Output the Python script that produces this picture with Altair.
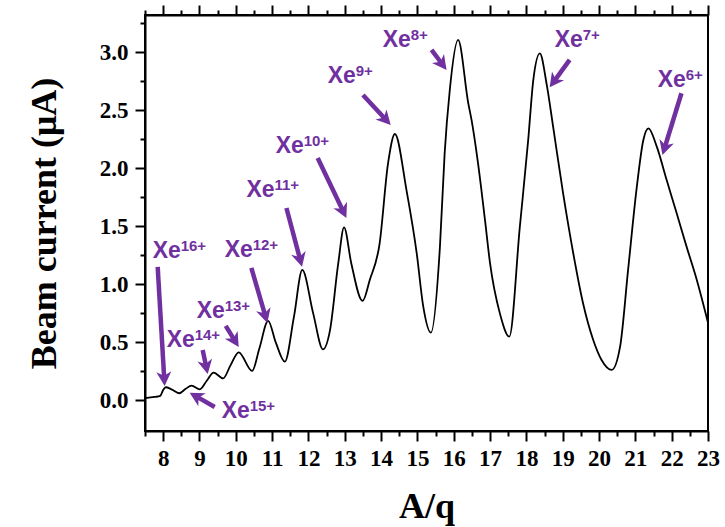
import math
import altair as alt
import pandas as pd

# ---- data ----
aq = [7.50, 7.77, 7.92, 8.00, 8.07, 8.23, 8.44, 8.62, 8.78, 9.01, 9.20, 9.39, 9.65,
      9.85, 10.08, 10.45, 10.65, 10.89, 11.10, 11.35, 11.60, 11.83, 12.13, 12.40,
      12.59, 12.82, 12.98, 13.18, 13.49, 13.69, 13.96, 14.19, 14.38, 14.70, 14.98,
      15.16, 15.37, 15.62, 15.75, 15.89, 16.12, 16.40, 16.49, 16.67, 16.86, 17.00,
      17.27, 17.53, 17.82, 18.05, 18.19, 18.37, 18.56, 18.74, 19.01, 19.29, 19.56,
      19.84, 20.07, 20.35, 20.58, 20.80, 21.04, 21.22, 21.36, 21.59, 21.86, 22.14,
      22.41, 22.69, 23.00]
current = [0.02, 0.03, 0.04, 0.09, 0.114, 0.096, 0.062, 0.10, 0.128, 0.096, 0.17, 0.24, 0.19,
           0.30, 0.415, 0.254, 0.45, 0.685, 0.50, 0.334, 0.72, 1.124, 0.75, 0.44,
           0.60, 1.18, 1.49, 1.18, 0.857, 1.04, 1.354, 2.04, 2.295, 1.81, 1.27,
           0.81, 0.584, 1.325, 2.13, 2.67, 3.105, 2.56, 2.416, 2.04, 1.555, 1.18,
           0.75, 0.55, 1.497, 2.244, 2.76, 2.99, 2.72, 2.35, 1.785, 1.268, 0.837,
           0.521, 0.349, 0.263, 0.463, 1.124, 1.84, 2.244, 2.344, 2.186, 1.9, 1.61,
           1.325, 1.04, 0.67]

# annotation labels: charge state, label anchor (A/q, current), arrow tail and tip
charge = ["16+", "15+", "14+", "13+", "12+", "11+", "10+", "9+", "8+", "7+", "6+"]
label_x = [7.711, 9.611, 8.096, 8.922, 9.693, 10.291, 11.097, 12.530, 14.044, 18.779, 21.615]
label_y = [1.227, -0.151, 0.461, 0.711, 1.236, 1.753, 2.132, 2.735, 3.045, 3.045, 2.696]
tail_x = [7.849, 9.419, 9.088, 9.722, 10.428, 11.394, 12.254, 13.501, 15.389, 19.191, 22.269]
tail_y = [1.150, -0.056, 0.435, 0.642, 1.142, 1.658, 2.089, 2.631, 3.019, 2.933, 2.646]
tip_x = [8.041, 8.730, 9.226, 10.080, 10.868, 11.823, 13.044, 14.264, 15.802, 18.641, 21.746]
tip_y = [0.125, 0.067, 0.228, 0.461, 0.668, 1.152, 1.572, 2.373, 2.847, 2.697, 2.115]

x_major = list(range(8, 24))
x_minor = [v + 0.5 for v in range(7, 23)]
y_major = [0.0, 0.5, 1.0, 1.5, 2.0, 2.5, 3.0]
y_minor = [0.25, 0.75, 1.25, 1.75, 2.25, 2.75, 3.25]

# ---- layout ----
W, H = 563, 416
XDOM = [7.5, 23.0]
YDOM = [-0.263, 3.32]
KX = W / (XDOM[1] - XDOM[0])
KY = H / (YDOM[1] - YDOM[0])
PURPLE = "#7030A0"
SERIF = "Liberation Serif"
SANS = "Liberation Sans"

df = pd.DataFrame({"aq": aq, "current": current})

# arrow geometry in data units (angles from screen-space direction)
ang, ex, ey = [], [], []
for tx, ty, hx, hy in zip(tail_x, tail_y, tip_x, tip_y):
    dxp = (hx - tx) * KX
    dyp = -(hy - ty) * KY
    L = math.hypot(dxp, dyp)
    ux, uy = dxp / L, dyp / L
    ang.append(math.degrees(math.atan2(ux, -uy)) % 360)
    back = 8.0
    ex.append(hx - ux * back / KX)
    ey.append(hy + uy * back / KY)

ann = pd.DataFrame({"charge": charge, "lx": label_x, "ly": label_y,
                    "tx": tail_x, "ty": tail_y, "hx": tip_x, "hy": tip_y,
                    "ex": ex, "ey": ey, "ang": ang, "xe": ["Xe"] * len(charge)})

xs = alt.Scale(domain=XDOM, nice=False, zero=False)
ys = alt.Scale(domain=YDOM, nice=False, zero=False)

common_axis = dict(grid=False, tickColor="black", tickWidth=2, domainColor="black",
                   domainWidth=2, labelColor="black", titleColor="black")

ax_bottom = alt.Axis(orient="bottom", values=x_major, title="A/q", tickSize=10,
                     labelFont=SERIF, labelFontSize=23, labelFontWeight="bold",
                     labelPadding=6, titleFont=SERIF, titleFontSize=36,
                     titleFontWeight="bold", titlePadding=19, labelFlush=False,
                     labelOverlap=False, **common_axis)
ax_bottom_minor = alt.Axis(orient="bottom", values=x_minor, title=None, labels=False,
                           tickSize=5, domain=False, grid=False, tickColor="black",
                           tickWidth=2)
ax_top = alt.Axis(orient="top", values=x_major, title=None, labels=False, tickSize=10,
                  **common_axis)
ax_top_minor = alt.Axis(orient="top", values=x_minor, title=None, labels=False,
                        tickSize=5, domain=False, grid=False, tickColor="black",
                        tickWidth=2)
ax_left = alt.Axis(orient="left", values=y_major, format=".1f", title="Beam current (μA)",
                   tickSize=10, labelFont=SERIF, labelFontSize=23, labelFontWeight="bold",
                   labelPadding=7, titleFont=SERIF, titleFontSize=36,
                   titleFontWeight="bold", titlePadding=36, labelFlush=False,
                   labelOverlap=False, **common_axis)
ax_left_minor = alt.Axis(orient="left", values=y_minor, title=None, labels=False,
                         tickSize=5, domain=False, grid=False, tickColor="black",
                         tickWidth=2)

base = alt.Chart(df)
line = base.mark_line(color="black", strokeWidth=1.8, interpolate="monotone").encode(
    x=alt.X("aq:Q", scale=xs, axis=ax_bottom),
    y=alt.Y("current:Q", scale=ys, axis=ax_left),
)
minor_layer = base.mark_line(opacity=0).encode(
    x=alt.X("aq:Q", scale=xs, axis=ax_bottom_minor),
    y=alt.Y("current:Q", scale=ys, axis=ax_left_minor),
)
top_layer = base.mark_line(opacity=0).encode(
    x=alt.X("aq:Q", scale=xs, axis=ax_top),
    y=alt.Y("current:Q", scale=ys, axis=None),
)
top_minor_layer = base.mark_line(opacity=0).encode(
    x=alt.X("aq:Q", scale=xs, axis=ax_top_minor),
    y=alt.Y("current:Q", scale=ys, axis=None),
)

abase = alt.Chart(ann)
shafts = abase.mark_rule(color=PURPLE, strokeWidth=4.5, strokeCap="butt").encode(
    x=alt.X("tx:Q", scale=xs, axis=None),
    y=alt.Y("ty:Q", scale=ys, axis=None),
    x2="ex:Q",
    y2="ey:Q",
)
heads = abase.mark_point(
    shape="M0,0 L1,1.9 L0,1.35 L-1,1.9 Z", filled=True, color=PURPLE, opacity=1,
    size=225, strokeWidth=0
).encode(
    x=alt.X("hx:Q", scale=xs, axis=None),
    y=alt.Y("hy:Q", scale=ys, axis=None),
    angle=alt.Angle("ang:Q", scale=None),
)
xe_text = abase.mark_text(align="left", baseline="alphabetic", font=SANS, fontSize=23,
                          fontWeight="bold", color=PURPLE).encode(
    x=alt.X("lx:Q", scale=xs, axis=None),
    y=alt.Y("ly:Q", scale=ys, axis=None),
    text="xe:N",
)
sup_text = abase.mark_text(align="left", baseline="alphabetic", font=SANS, fontSize=15,
                           fontWeight="bold", color=PURPLE, dx=28, dy=-7).encode(
    x=alt.X("lx:Q", scale=xs, axis=None),
    y=alt.Y("ly:Q", scale=ys, axis=None),
    text="charge:N",
)

chart = alt.layer(
    line, minor_layer, top_layer, top_minor_layer, shafts, heads, xe_text, sup_text
).resolve_axis(x="independent", y="independent").properties(
    width=W, height=H,
    autosize=alt.AutoSizeParams(type="none"),
    padding={"left": 145, "top": 15, "right": 17, "bottom": 96},
    background="white",
).configure_view(stroke="black", strokeWidth=2)

chart.save("out.html", embed_options={"renderer": "svg", "actions": False})
